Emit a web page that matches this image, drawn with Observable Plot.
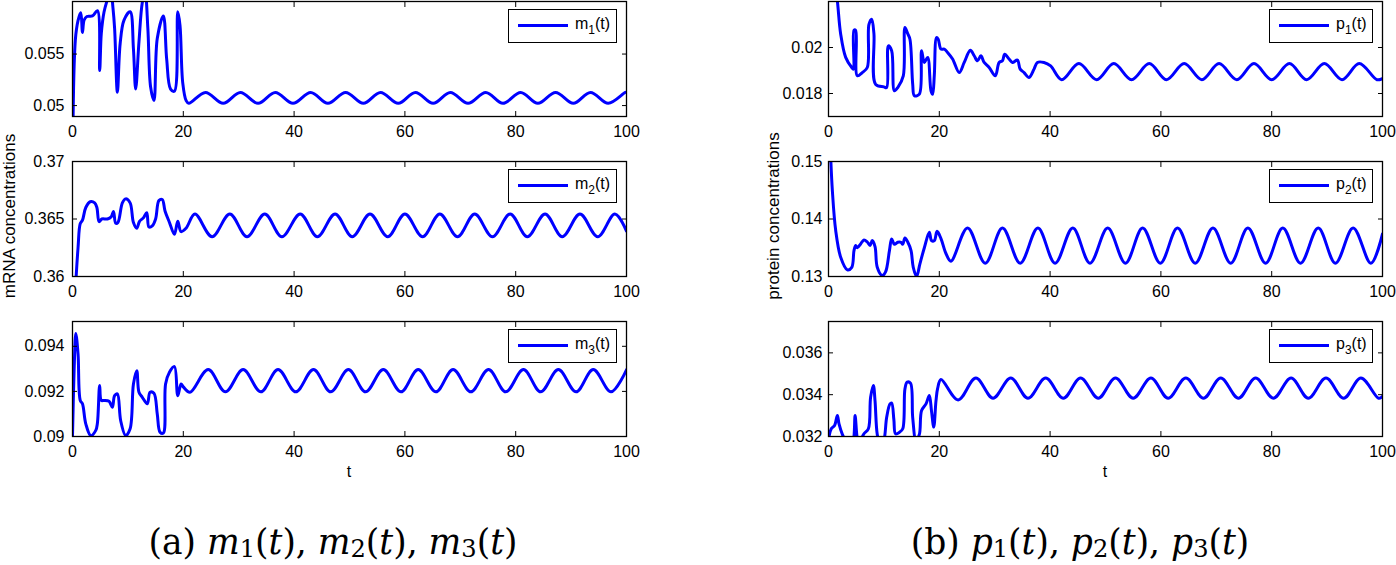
<!DOCTYPE html>
<html><head><meta charset="utf-8">
<script src="https://cdn.jsdelivr.net/npm/d3@7"></script>
<script src="https://cdn.jsdelivr.net/npm/@observablehq/plot@0.6"></script>
<style>
html,body{margin:0;padding:0;background:#fff;}
#root{position:relative;width:1396px;height:565px;overflow:hidden;font-family:"Liberation Sans",Arial,sans-serif;color:#000;}
#root svg text{font-size:16px;font-family:"Liberation Sans",Arial,sans-serif;}
.legend{position:absolute;height:34px;border:1px solid #000;background:#fff;box-sizing:border-box;font-size:16px;}
.legend .swatch{position:absolute;left:9px;top:14px;width:50px;height:3px;background:#0000ff;}
.legend .lab{position:absolute;left:66px;top:5px;white-space:nowrap;line-height:18px;}
.legend .lab span{font-size:12px;position:relative;top:5px;}
.ylab{position:absolute;font-size:17px;white-space:nowrap;transform:translate(-50%,-50%) rotate(-90deg);}
.xlab{position:absolute;font-size:16px;transform:translate(-50%,-50%);}
.cap{position:absolute;font-family:"DejaVu Serif",serif;font-size:34.5px;white-space:nowrap;transform:translateX(-50%);line-height:1;}
.cap sub{font-size:0.7em;position:relative;top:0.12em;vertical-align:baseline;line-height:1;}
</style></head>
<body><div id="root"></div>
<script>
const xTicks = [0, 20, 40, 60, 80, 100];
const m1Ticks = [0.05, 0.055];
const m2Ticks = [0.36, 0.365, 0.37];
const m3Ticks = [0.09, 0.092, 0.094];
const p1Ticks = [0.018, 0.02];
const p2Ticks = [0.13, 0.14, 0.15];
const p3Ticks = [0.032, 0.034, 0.036];

const m1 = [[0.1,0.0485],[0.6,0.0569],[1.2,0.05865],[1.5,0.0590],[1.8,0.0571],[2.1,0.0583],[2.6,0.05865],[3.6,0.0587],[4.5,0.0592],[4.9,0.0534],[5.2,0.0570],[5.7,0.0591],[6.3,0.0603],[6.9,0.0613],[7.3,0.0595],[7.6,0.0575],[8.1,0.0513],[8.6,0.0560],[9.3,0.0583],[10.4,0.0591],[11.0,0.0555],[11.4,0.0516],[12.0,0.0562],[12.6,0.0600],[13.1,0.0610],[13.6,0.0575],[14.1,0.0518],[14.7,0.0505],[15.3,0.0565],[16.4,0.0587],[17.0,0.0545],[17.7,0.0516],[18.4,0.0514],[19.0,0.0591],[19.4,0.0578],[19.9,0.0522],[20.5,0.0505],[21.0,0.05022],[24.0,0.05128],[27.2,0.05022],[30.3,0.05128],[33.5,0.05022],[36.6,0.05128],[39.8,0.05022],[43.0,0.05128],[46.1,0.05022],[49.3,0.05128],[52.5,0.05022],[55.6,0.05128],[58.8,0.05022],[61.9,0.05128],[65.1,0.05022],[68.2,0.05128],[71.4,0.05022],[74.6,0.05128],[77.7,0.05022],[80.9,0.05128],[84.0,0.05022],[87.2,0.05128],[90.4,0.05022],[93.5,0.05128],[96.7,0.05022],[99.8,0.05128],[100,0.05128]];

const m2 = [[0.6,0.3595],[1.0,0.3625],[1.4,0.3646],[1.8,0.3649],[2.4,0.3660],[3.2,0.3665],[4.0,0.3664],[4.4,0.3660],[4.8,0.36477],[5.3,0.3650],[6.3,0.3650],[7.0,0.3652],[7.4,0.36565],[7.8,0.36463],[8.2,0.3647],[9.0,0.3664],[9.6,0.36675],[10.4,0.3664],[11.0,0.3647],[11.6,0.3642],[12.1,0.3648],[12.8,0.3651],[13.4,0.36555],[13.8,0.3643],[14.4,0.3644],[15.0,0.3650],[15.6,0.3666],[16.2,0.3667],[16.7,0.3657],[17.5,0.3647],[18.4,0.36367],[19.0,0.3648],[19.6,0.3639],[20.5,0.3642],[22.1,0.36543],[25.2,0.36346],[28.4,0.36543],[31.5,0.36346],[34.7,0.36543],[37.8,0.36346],[41.1,0.36543],[44.2,0.36346],[47.4,0.36543],[50.5,0.36346],[53.7,0.36543],[56.9,0.36346],[60.0,0.36543],[63.2,0.36346],[66.3,0.36543],[69.5,0.36346],[72.6,0.36543],[75.8,0.36346],[79.0,0.36543],[82.1,0.36346],[85.3,0.36543],[88.4,0.36346],[91.6,0.36543],[94.8,0.36346],[97.9,0.36543],[100,0.36395]];

const m3 = [[0,0.0900],[0.3,0.0930],[0.6,0.09457],[1.0,0.09366],[1.4,0.0916],[1.8,0.09145],[2.4,0.09056],[3.3,0.09004],[4.2,0.09027],[4.5,0.0906],[4.9,0.09226],[5.2,0.0916],[5.7,0.0916],[6.6,0.09156],[7.2,0.0913],[7.6,0.09181],[8.1,0.09189],[8.7,0.0907],[9.6,0.09004],[10.4,0.09034],[11.0,0.09233],[11.6,0.09292],[12.0,0.09196],[12.6,0.09174],[13.5,0.09145],[14.0,0.09196],[14.7,0.09192],[15.3,0.0910],[15.8,0.09019],[16.4,0.09015],[16.8,0.09233],[17.5,0.09285],[18.4,0.0931],[19.0,0.09181],[19.6,0.09233],[20.0,0.0922],[21.2,0.09196],[24.5,0.09297],[27.6,0.09198],[30.8,0.09297],[34.0,0.09198],[37.1,0.09297],[40.3,0.09198],[43.5,0.09297],[46.6,0.09198],[49.8,0.09297],[52.9,0.09198],[56.1,0.09297],[59.3,0.09198],[62.4,0.09297],[65.6,0.09198],[68.7,0.09297],[71.9,0.09198],[75.1,0.09297],[78.2,0.09198],[81.4,0.09297],[84.5,0.09198],[87.7,0.09297],[90.9,0.09198],[94.0,0.09297],[97.2,0.09198],[100,0.09296]];

const p1 = [[0.5,0.0250],[1.0,0.0232],[1.6,0.02203],[2.2,0.02058],[3.1,0.01957],[4.2,0.01913],[4.5,0.01906],[4.6,0.02075],[4.9,0.02075],[5.2,0.01877],[6.1,0.01891],[7.0,0.01913],[7.3,0.0210],[7.8,0.02123],[8.2,0.0206],[8.5,0.0184],[10.0,0.01829],[10.5,0.01826],[10.8,0.02007],[11.4,0.01986],[11.9,0.01812],[12.5,0.01826],[13.5,0.01877],[13.8,0.02087],[14.3,0.0206],[14.7,0.02036],[15.2,0.0184],[15.5,0.0179],[16.4,0.01797],[16.8,0.01986],[17.3,0.01935],[17.9,0.01957],[18.5,0.01812],[18.8,0.01797],[19.1,0.0188],[19.5,0.02043],[19.8,0.02036],[20.3,0.01993],[20.9,0.01993],[21.5,0.01978],[22.4,0.0195],[23.6,0.01891],[24.5,0.01935],[25.6,0.01988],[26.3,0.01964],[26.9,0.01942],[27.5,0.01964],[28.1,0.01935],[29.0,0.01913],[30.1,0.01877],[30.8,0.01935],[31.4,0.01942],[31.8,0.01971],[32.6,0.0195],[33.2,0.01935],[34.1,0.01945],[34.6,0.01906],[35.3,0.01891],[36.2,0.0187],[37.1,0.01906],[37.7,0.01935],[38.9,0.01935],[40.1,0.0192],[42.1,0.0186],[45.2,0.0193],[48.4,0.0186],[51.5,0.0193],[54.7,0.0186],[57.9,0.0193],[61.0,0.0186],[64.2,0.0193],[67.4,0.0186],[70.5,0.0193],[73.7,0.0186],[76.8,0.0193],[80.0,0.0186],[83.2,0.0193],[86.3,0.0186],[89.5,0.0193],[92.7,0.0186],[95.8,0.0193],[99.0,0.0186],[100,0.01865]];

const p2 = [[0.3,0.1530],[0.7,0.1449],[1.3,0.1380],[2.2,0.13335],[3.4,0.13116],[4.2,0.1316],[4.6,0.1345],[4.9,0.13538],[5.2,0.1350],[5.8,0.13566],[6.4,0.13636],[7.0,0.1360],[7.5,0.1354],[7.9,0.13624],[8.4,0.1352],[8.8,0.13162],[9.7,0.13017],[10.3,0.1308],[11.0,0.1345],[11.4,0.13653],[11.9,0.1356],[12.5,0.13595],[13.1,0.13595],[13.4,0.1356],[13.8,0.1367],[14.3,0.1360],[14.9,0.1345],[15.3,0.1316],[15.9,0.1300],[16.5,0.1322],[17.3,0.1350],[18.2,0.13769],[18.6,0.13624],[19.1,0.13624],[19.6,0.13786],[20.3,0.1366],[21.2,0.1340],[22.1,0.13266],[25.1,0.13844],[28.3,0.13231],[31.4,0.13844],[34.6,0.13231],[37.8,0.13844],[40.9,0.13231],[44.1,0.13844],[47.2,0.13231],[50.4,0.13844],[53.6,0.13231],[56.7,0.13844],[59.9,0.13231],[63.0,0.13844],[66.2,0.13231],[69.4,0.13844],[72.6,0.13231],[75.7,0.13844],[78.9,0.13231],[82.0,0.13844],[85.2,0.13231],[88.4,0.13844],[91.5,0.13231],[94.7,0.13844],[97.9,0.13231],[100,0.1374]];

const p3 = [[0.1,0.0320],[0.5,0.03237],[1.1,0.03253],[1.6,0.0330],[1.9,0.0326],[2.5,0.0321],[3.1,0.0318],[4.0,0.0315],[4.5,0.0318],[4.8,0.0330],[5.1,0.0321],[5.4,0.0315],[5.8,0.0318],[6.4,0.03213],[7.2,0.03237],[7.6,0.03388],[8.1,0.03444],[8.4,0.0337],[8.8,0.0321],[9.4,0.0315],[10.0,0.0318],[10.5,0.03292],[11.1,0.03356],[11.4,0.0336],[11.8,0.0328],[12.1,0.03213],[12.8,0.0322],[13.4,0.03237],[13.8,0.03428],[14.2,0.0346],[14.8,0.03455],[15.2,0.0329],[15.8,0.0318],[16.4,0.0321],[16.8,0.03324],[17.6,0.03356],[18.2,0.03396],[18.6,0.0332],[19.0,0.03245],[19.4,0.0337],[19.7,0.0343],[20.3,0.03473],[23.4,0.03375],[26.6,0.0348],[29.7,0.03383],[32.9,0.0348],[36.0,0.03383],[39.2,0.0348],[42.4,0.03383],[45.5,0.0348],[48.7,0.03383],[51.8,0.0348],[55.0,0.03383],[58.2,0.0348],[61.3,0.03383],[64.5,0.0348],[67.7,0.03383],[70.8,0.0348],[74.0,0.03383],[77.1,0.0348],[80.3,0.03383],[83.5,0.0348],[86.6,0.03383],[89.8,0.0348],[93.0,0.03383],[96.1,0.0348],[99.3,0.03383],[100,0.03392]];

const root = document.getElementById("root");

function panel(data, domain, yTicks, left, top, width, marginLeft, yPad) {
  const svg = Plot.plot({
    width, height: 155, marginTop: 10, marginBottom: 30, marginLeft, marginRight: 14,
    x: {domain: [0, 100]},
    y: {domain},
    style: {fontFamily: '"Liberation Sans", Arial, sans-serif', fontSize: "16px", color: "#000", background: "transparent", overflow: "visible"},
    marks: [
      Plot.line(data, {x: d => d[0], y: d => d[1], stroke: "#0000ff", strokeWidth: 3, curve: "catmull-rom", clip: true}),
      Plot.frame({stroke: "#000", strokeWidth: 1.3}),
      Plot.axisX(xTicks, {anchor: "bottom", tickSize: 0, tickPadding: 9, fontSize: 16, label: null, tickFormat: d => String(d)}),
      Plot.axisX(xTicks, {anchor: "bottom", tickSize: -5, fill: "none", label: null}),
      Plot.axisX(xTicks, {anchor: "top", tickSize: -5, fill: "none", label: null}),
      Plot.axisY(yTicks, {anchor: "left", tickSize: 0, tickPadding: yPad, fontSize: 16, label: null, tickFormat: d => String(d)}),
      Plot.axisY(yTicks, {anchor: "left", tickSize: -5, fill: "none", label: null}),
      Plot.axisY(yTicks, {anchor: "right", tickSize: -5, fill: "none", label: null})
    ]
  });
  svg.style.position = "absolute";
  svg.style.left = left + "px";
  svg.style.top = top + "px";
  root.appendChild(svg);
}

function legend(name, sub, left, top, width) {
  const d = document.createElement("div");
  d.className = "legend";
  d.style.left = left + "px";
  d.style.top = top + "px";
  d.style.width = width + "px";
  d.innerHTML = `<div class="swatch"></div><div class="lab">${name}<span>${sub}</span>(t)</div>`;
  root.appendChild(d);
}

function label(cls, text, x, y) {
  const d = document.createElement("div");
  d.className = cls;
  d.style.left = x + "px";
  d.style.top = y + "px";
  d.textContent = text;
  root.appendChild(d);
}

const rowTops = [-9, 151, 311];
panel(m1, [0.04894, 0.0601], m1Ticks, 0, rowTops[0], 640, 72, 8);
panel(m2, [0.36, 0.37], m2Ticks, 0, rowTops[1], 640, 72, 8);
panel(m3, [0.09, 0.0951], m3Ticks, 0, rowTops[2], 640, 72, 8);
panel(p1, [0.017, 0.022], p1Ticks, 760, rowTops[0], 636, 68, 6);
panel(p2, [0.13, 0.15], p2Ticks, 760, rowTops[1], 636, 68, 6);
panel(p3, [0.032, 0.0375], p3Ticks, 760, rowTops[2], 636, 68, 6);

const legTops = [9, 169, 329];
["1","2","3"].forEach((s, i) => {
  legend("m", s, 508, legTops[i], 109);
  legend("p", s, 1269, legTops[i], 104);
});

label("ylab", "mRNA concentrations", 10, 216);
label("ylab", "protein concentrations", 774, 216);
label("xlab", "t", 349, 472);
label("xlab", "t", 1105, 472);

const capA = document.createElement("div");
capA.className = "cap";
capA.style.left = "333px"; capA.style.top = "525px";
capA.innerHTML = "(a) <i>m</i><sub>1</sub>(<i>t</i>), <i>m</i><sub>2</sub>(<i>t</i>), <i>m</i><sub>3</sub>(<i>t</i>)";
root.appendChild(capA);
const capB = document.createElement("div");
capB.className = "cap";
capB.style.left = "1080px"; capB.style.top = "525px";
capB.innerHTML = "(b) <i>p</i><sub>1</sub>(<i>t</i>), <i>p</i><sub>2</sub>(<i>t</i>), <i>p</i><sub>3</sub>(<i>t</i>)";
root.appendChild(capB);
</script>
</body></html>
